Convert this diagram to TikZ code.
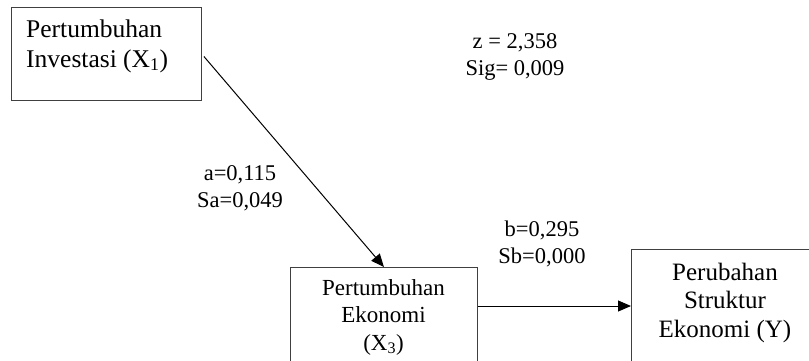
\documentclass[tikz,border=0pt]{standalone}
\usepackage{fontspec}
\setmainfont{Liberation Serif}
\usetikzlibrary{arrows.meta,calc}
\begin{document}
\begin{tikzpicture}[x=1pt,y=-1pt,
  box/.style={draw=black!75, line width=0.9pt, inner sep=0pt, anchor=north west},
  conn/.style={line width=1pt, -{Triangle[length=13pt,width=11pt]}},
  lbl/.style={align=center, inner sep=0pt, font=\fontsize{22.5}{27}\selectfont, anchor=base}]
\clip (0,0) rectangle (809,360);
\node[box, minimum width=190pt, minimum height=93pt] (b1) at (11,7) {};
\node[box, minimum width=187pt, minimum height=120pt] (b2) at (290,267) {};
\node[box, minimum width=190pt, minimum height=130pt] (b3) at (631,249) {};
\node[anchor=base west, align=left, inner sep=0pt, font=\fontsize{25.5}{30}\selectfont] (t1) at (26,67) {Pertumbuhan\\Investasi (X\textsubscript{1})};
\node[lbl, font=\fontsize{23}{27.5}\selectfont] (t2) at (383.5,350) {Pertumbuhan\\Ekonomi\\(X\textsubscript{3})};
\node[lbl, font=\fontsize{25}{28.5}\selectfont] (t3) at (725,337) {Perubahan\\Struktur\\Ekonomi (Y)};
\node[lbl] (lz) at (515,75) {z = 2,358\\Sig= 0,009};
\node[lbl] (la) at (240,207) {a=0,115\\Sa=0,049};
\node[lbl] (lb) at (542,263) {b=0,295\\Sb=0,000};
\draw[conn] ([shift={(2pt,-2.5pt)}]b1.east) -- (b2.north);
\path (b2.north east) ++(0,39) coordinate (p2);
\draw[conn] (p2) -- (p2 -| b3.west);
\end{tikzpicture}
\end{document}
